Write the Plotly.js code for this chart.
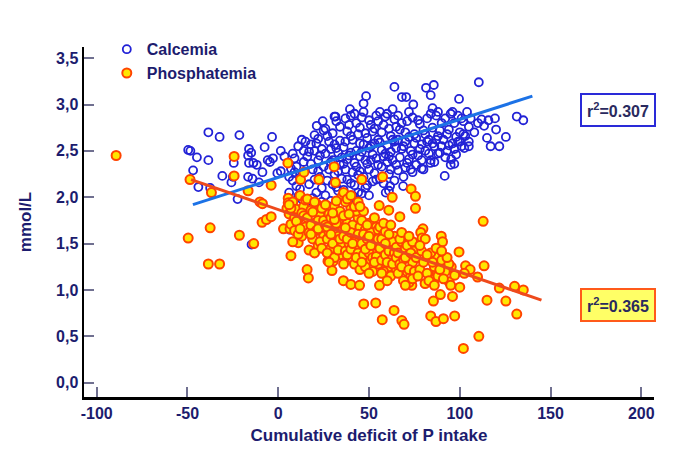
<!DOCTYPE html>
<html>
<head>
<meta charset="utf-8">
<script src="https://cdn.plot.ly/plotly-3.0.1.min.js"></script>
<style>html,body{margin:0;padding:0;background:#fff;}#chart{width:683px;height:463px;}</style>
</head>
<body>
<div id="chart"></div>
<script>
// ---- Calcemia (blue open circles) ----
const calcemiaX = [
 -49.6,-48.4,-44.8,-38.5,-32.3,-21.4,-3.4,-46.9,-44,-38.5,-30.8,-37.5,-22.4,-25.8,-25,-24.5,
 -16.1,-14.9,-16.6,-13.7,-11.8,-16.1,-7.5,-5.8,-2.9,-4.6,-16.6,-14.2,-8.7,-10.6,-0.5,1.4,1.4,3.4,
 -14.7,6.3,24.5,21.2,31.5,39.5,48.4,47,64,68.1,70.5,74.4,81.4,85.7,84,85,110.5,99.6,131.4,135,
 119.4,112,115.8,113.4,120,125.4,121.8,117,115,105,102.5,105,97,91.7,95.3,83.8,79,88,61.6,61,59.2,68.8,
 6,7,8,9,10,11,12,13,14,15,8,10,12,14,6,13,11,9,
 16,17,18,19,20,21,22,23,24,25,16,18,20,22,24,17,19,21,23,25,18,20,22,24,
 26,27,28,29,30,31,32,33,34,35,26,28,30,32,34,27,29,31,33,35,26,28,30,32,34,29,31,33,
 36,37,38,39,40,41,42,43,44,45,36,37,38,39,40,41,42,43,44,45,36,38,40,42,44,37,39,41,43,45,40,42,
 46,47,48,49,50,51,52,53,54,55,46,47,48,49,50,51,52,53,54,55,46,48,50,52,54,47,49,51,53,55,50,45,
 56,57,58,59,60,61,62,63,64,65,56,57,58,59,60,61,62,63,64,65,56,58,60,62,64,57,61,63,65,
 66,67,68,69,70,71,72,73,74,75,66,68,70,72,74,67,69,71,73,75,66,70,72,74,
 76,77,78,79,80,81,82,83,84,85,86,87,88,89,90,76,78,80,82,84,86,88,77,79,81,83,85,87,89,90,
 91,92,93,94,95,96,97,98,99,100,101,102,103,104,105,92,94,96,98,100,102,93,97,101,95,99,
 106,108,110
];
const calcemiaY = [
 2.51,2.50,2.43,2.70,2.65,2.67,2.65,2.29,2.11,2.40,2.23,2.10,1.98,2.16,2.22,2.37,
 2.52,2.48,2.45,2.37,2.35,2.37,2.54,2.40,2.42,2.38,2.22,2.20,2.27,2.16,2.26,2.28,2.50,2.44,
 1.49,1.65,2.82,2.77,2.87,2.95,3.09,3.01,3.19,3.08,3.08,3.00,3.18,3.21,3.10,2.96,3.24,3.06,2.87,2.83,
 2.85,2.84,2.83,2.77,2.73,2.65,2.55,2.55,2.64,2.55,2.53,2.60,2.36,2.23,2.41,2.37,2.31,2.47,2.12,2.07,2.05,2.12,
 2.05,2.31,2.18,2.42,2.12,2.55,2.25,1.98,2.38,2.60,2.47,2.33,2.09,2.50,2.22,2.62,2.01,2.27,
 2.44,2.14,2.57,2.30,2.67,2.05,2.40,2.22,2.52,2.33,1.93,2.36,2.19,2.63,2.10,2.49,1.99,2.58,2.45,2.72,1.88,2.50,2.28,1.95,
 2.47,2.18,2.60,2.38,2.69,2.25,2.53,2.07,2.76,2.43,2.02,2.30,2.14,2.82,2.35,2.66,1.96,2.57,2.48,2.20,2.74,1.90,2.40,2.11,2.61,2.52,2.87,2.28,
 2.54,2.30,2.71,2.45,2.15,2.62,2.37,2.80,2.24,2.58,2.08,2.85,2.41,1.98,2.66,2.27,2.90,2.50,2.05,2.75,2.36,2.19,2.48,2.13,2.68,2.60,2.78,2.02,2.33,2.44,2.88,1.92,
 2.49,2.22,2.69,2.36,2.83,2.55,2.17,2.74,2.42,2.62,2.86,2.57,2.10,2.64,2.30,2.78,2.46,2.26,2.88,2.35,2.04,2.40,2.53,2.71,2.19,2.92,2.13,2.40,2.58,2.82,2.02,2.28,
 2.59,2.33,2.78,2.47,2.90,2.25,2.66,2.40,2.84,2.53,2.20,2.70,2.44,2.87,2.56,2.74,2.30,2.62,2.18,2.76,2.92,2.15,2.38,2.49,2.60,2.51,2.44,2.95,2.35,
 2.62,2.43,2.80,2.55,2.70,2.37,2.65,2.50,2.86,2.58,2.29,2.52,2.32,2.92,2.46,2.73,2.22,2.82,2.30,2.68,2.88,2.60,2.41,2.27,
 2.64,2.45,2.79,2.57,2.72,2.50,2.85,2.62,2.40,2.75,2.55,2.88,2.66,2.48,2.80,2.35,2.52,2.30,2.60,2.90,2.38,2.92,2.83,2.40,2.68,2.47,2.58,2.62,2.72,2.55,
 2.62,2.85,2.50,2.73,2.90,2.58,2.80,2.65,2.88,2.70,2.55,2.82,2.66,2.92,2.76,2.43,2.56,2.92,2.46,2.60,2.68,2.68,2.52,2.85,2.35,2.60,
 2.85,2.70,2.80
];

// ---- Phosphatemia (yellow filled, orange outline) ----
const phosX = [
 -89.3,-48.6,-49.6,-37.5,-38.5,-32.3,-36.8,-24.3,-24.3,-16.6,-21.4,-13.5,-10.1,-8.7,-8.9,-6.5,-3.9,-3.9,
 5.3,5.5,5.5,4.8,2.9,6.5,7,12.3,14.2,22.4,30.8,31.5,15.9,16.6,11,27.4,29.6,30.3,35.9,40,44.8,47.1,53.7,
 55.8,57.3,63.8,68.1,69.3,46,57.5,62.8,73.2,75.6,75.6,67,60.9,55.6,79.7,78.5,79.2,89.8,90.5,112.9,99.6,
 86.4,91.2,113.4,103.2,105.7,109.8,121.8,130.2,135,115,125.4,131.4,110.5,102,84,86.9,91,97.2,85.5,89.3,96,100,
 73.6,72,80.9,86.4,94.1,87.6,95.3,102.5,97.2,
 6,7,8,9,10,11,12,13,14,15,7,9,11,13,15,8,10,12,14,6,
 16,17,18,19,20,21,22,23,24,25,16,17,18,19,20,21,22,23,24,25,18,20,22,24,
 26,27,28,29,30,31,32,33,34,35,26,27,28,29,30,31,32,33,34,35,27,29,31,33,35,30,32,34,28,36,
 36,37,38,39,40,41,42,43,44,45,36,37,38,39,40,41,42,43,44,45,36,38,40,42,44,37,39,41,43,45,38,40,42,44,
 46,47,48,49,50,51,52,53,54,55,46,47,48,49,50,51,52,53,54,55,46,48,50,52,54,47,49,51,53,55,50,45,
 56,57,58,59,60,61,62,63,64,65,56,57,58,59,60,61,62,63,64,65,57,59,61,63,65,58,60,62,
 66,67,68,69,70,71,72,73,74,75,66,67,68,69,70,71,72,73,74,75,68,70,72,74,
 76,78,80,82,84,86,88,90,92,94,77,79,81,83,85,87,89,91,93,95,78,82,86,90
];
const phosY = [
 2.45,2.19,1.56,1.67,1.28,1.28,2.05,2.44,2.23,2.07,1.59,1.50,1.95,1.93,1.73,1.76,1.79,2.13,
 2.37,1.99,1.94,1.88,1.66,1.66,1.37,2.19,2.27,2.19,2.33,2.16,1.22,1.13,1.51,1.31,1.21,1.31,1.10,1.06,1.05,0.85,0.86,
 1.05,0.68,0.78,0.67,0.63,2.19,2.22,2.00,2.09,2.01,1.88,1.79,1.86,1.91,1.66,1.62,1.56,1.58,1.52,1.74,1.41,
 1.36,1.30,1.26,1.26,1.22,1.14,1.02,1.04,1.00,0.89,0.88,0.74,0.50,0.37,0.72,0.66,0.69,0.72,0.88,0.95,0.93,1.03,
 1.05,1.08,1.07,1.12,1.09,1.18,1.25,1.18,1.16,
 1.82,1.71,1.95,1.64,1.87,1.76,2.02,1.58,1.90,1.68,1.88,1.78,1.60,1.83,1.97,1.52,1.74,1.66,1.80,1.92,
 1.78,1.62,1.86,1.55,1.72,1.93,1.48,1.80,1.67,1.58,1.98,1.43,1.70,1.84,1.40,1.64,1.75,1.52,1.88,1.75,1.60,1.95,1.66,1.45,
 1.70,1.55,1.82,1.45,1.68,1.90,1.52,1.75,1.38,1.63,1.92,1.40,1.62,1.78,1.50,1.35,1.72,1.58,1.85,1.47,1.68,1.60,1.76,1.43,2.00,1.83,1.96,1.55,1.30,2.05,
 1.58,1.42,1.72,1.50,1.88,1.33,1.65,1.46,1.78,1.55,1.80,1.95,1.38,1.66,1.44,1.70,1.28,1.85,1.40,1.68,1.28,1.55,1.62,1.52,1.60,1.67,1.82,1.50,1.35,1.22,1.98,2.02,1.90,1.95,
 1.50,1.38,1.65,1.45,1.72,1.32,1.58,1.42,1.68,1.28,1.75,1.60,1.25,1.55,1.40,1.62,1.20,1.78,1.48,1.55,1.30,1.44,1.58,1.35,1.36,1.85,1.70,1.48,1.30,1.65,1.18,1.90,
 1.45,1.32,1.60,1.38,1.52,1.25,1.48,1.35,1.58,1.22,1.68,1.55,1.20,1.63,1.30,1.42,1.15,1.52,1.40,1.46,1.18,1.50,1.60,1.28,1.35,1.72,1.10,1.70,
 1.40,1.28,1.52,1.33,1.45,1.20,1.38,1.15,1.30,1.42,1.18,1.55,1.25,1.10,1.35,1.48,1.22,1.40,1.52,1.20,1.62,1.05,1.58,1.12,
 1.35,1.22,1.30,1.18,1.40,1.25,1.15,1.32,1.20,1.28,1.15,1.42,1.55,1.10,1.30,1.45,1.22,1.12,1.35,1.05,1.48,1.38,1.05,1.42
];

// ---- Regression line end points ----
const calcFitX = [-47, 140];
const calcFitY = [1.92, 3.09];
const phosFitX = [-48, 145];
const phosFitY = [2.19, 0.89];

// ---- Axis ticks and labels ----
const xTickVals = [-100, -50, 0, 50, 100, 150, 200];
const xTickText = ['-100', '-50', '0', '50', '100', '150', '200'];
const yTickVals = [0, 0.5, 1, 1.5, 2, 2.5, 3, 3.5];
const seriesNames = ['Calcemia', 'Phosphatemia'];
const r2Labels = ['r<sup>2</sup>=0.307', 'r<sup>2</sup>=0.365'];

const navy = '#1c1c6e';
const FONT = 'Liberation Sans, Arial, sans-serif';

const traces = [
  {x: calcemiaX, y: calcemiaY, type: 'scatter', mode: 'markers', name: seriesNames[0],
   marker: {symbol: 'circle-open', size: 8, color: '#2222d6', line: {width: 1.8, color: '#2222d6'}}},
  {x: phosX, y: phosY, type: 'scatter', mode: 'markers', name: seriesNames[1],
   marker: {symbol: 'circle', size: 9, color: '#ffe600', line: {width: 2, color: '#ff4400'}}},
  {x: calcFitX, y: calcFitY, type: 'scatter', mode: 'lines', showlegend: false, hoverinfo: 'skip',
   line: {color: '#1c72e6', width: 3}},
  {x: phosFitX, y: phosFitY, type: 'scatter', mode: 'lines', showlegend: false, hoverinfo: 'skip',
   line: {color: '#ee4a1c', width: 3}}
];

const layout = {
  width: 683, height: 463,
  margin: {l: 84, r: 29, t: 47, b: 66},
  paper_bgcolor: '#ffffff', plot_bgcolor: '#ffffff',
  separators: ',.',
  font: {family: FONT, color: navy},
  showlegend: true,
  legend: {x: 0.04, y: 1.042, xanchor: 'left', yanchor: 'top', bgcolor: 'rgba(0,0,0,0)',
           font: {size: 16, color: navy, family: FONT, weight: 'bold'}, itemwidth: 30,
           tracegroupgap: 0},
  xaxis: {
    range: [-107, 207], showgrid: false, zeroline: false,
    showline: true, linecolor: '#000000', linewidth: 2.5, mirror: false,
    tickmode: 'array', tickvals: xTickVals, ticktext: xTickText,
    ticks: 'inside', ticklen: 10, tickwidth: 2, tickcolor: '#707090',
    tickfont: {size: 16, color: navy, family: FONT, weight: 'bold'},
    title: {text: 'Cumulative deficit of P intake', standoff: 9,
            font: {size: 17, color: navy, family: FONT, weight: 'bold'}}
  },
  yaxis: {
    range: [-0.154, 3.62], showgrid: false, zeroline: false,
    showline: true, linecolor: '#000000', linewidth: 2.5, mirror: false,
    tickmode: 'array', tickvals: yTickVals, tickformat: '.1f',
    ticks: 'inside', ticklen: 10, tickwidth: 2, tickcolor: '#707090',
    tickfont: {size: 16, color: navy, family: FONT, weight: 'bold'},
    title: {text: 'mmol/L', standoff: 20,
            font: {size: 17, color: navy, family: FONT, weight: 'bold'}}
  },
  annotations: [
    {xref: 'paper', yref: 'paper', x: 0.937, y: 0.82, xanchor: 'center', yanchor: 'middle',
     text: r2Labels[0], showarrow: false,
     font: {size: 16, color: '#2a2a5e', family: FONT, weight: 'bold'},
     bgcolor: '#ffffff', bordercolor: '#2a2ad8', borderwidth: 2, borderpad: 5},
    {xref: 'paper', yref: 'paper', x: 0.937, y: 0.263, xanchor: 'center', yanchor: 'middle',
     text: r2Labels[1], showarrow: false,
     font: {size: 16, color: '#2a2a5e', family: FONT, weight: 'bold'},
     bgcolor: '#ffff66', bordercolor: '#ff5a1a', borderwidth: 2, borderpad: 5}
  ]
};

Plotly.newPlot('chart', traces, layout, {displayModeBar: false, staticPlot: true});
</script>
</body>
</html>
